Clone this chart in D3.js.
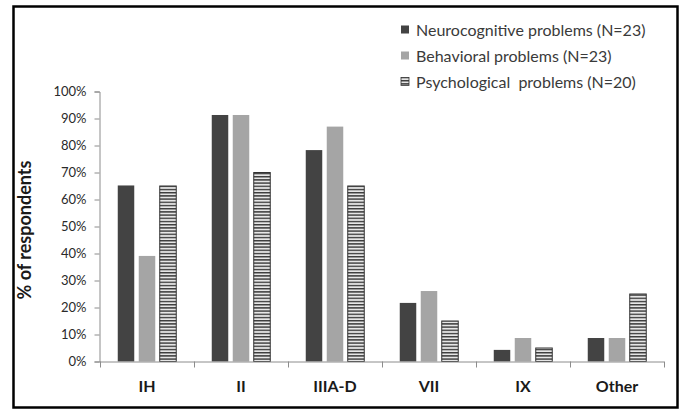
<!DOCTYPE html>
<html><head><meta charset="utf-8">
<script src="https://cdn.jsdelivr.net/npm/d3@7"></script>
<style>
body{margin:0;background:#fff}
text{font-family:Lato,"Open Sans",sans-serif}
</style>
</head><body>
<svg id="chart" width="682" height="409"></svg>
<script>
// Respondent shares per deficiency type (percent)
const categories = ["IH", "II", "IIIA-D", "VII", "IX", "Other"];
const seriesNames = ["Neurocognitive problems (N=23)", "Behavioral problems (N=23)", "Psychological  problems (N=20)"];
const neurocognitive = [65.2, 91.3, 78.3, 21.7, 4.3, 8.7];
const behavioral = [39.1, 91.3, 87.0, 26.1, 8.7, 8.7];
const psychological = [65, 70, 65, 15, 5, 25];
const yTicks = [0, 10, 20, 30, 40, 50, 60, 70, 80, 90, 100];

const seriesValues = [neurocognitive, behavioral, psychological];
const seriesFill = ["#434343", "#a5a5a5", "url(#stripes)"];

const svg = d3.select("#chart");

// horizontal stripe fill for the third series
const defs = svg.append("defs");
const pat = defs.append("pattern").attr("id", "stripes")
  .attr("patternUnits", "userSpaceOnUse").attr("width", 6).attr("height", 3.2);
pat.append("rect").attr("width", 6).attr("height", 3.2).attr("fill", "#e6e6e6");
pat.append("rect").attr("width", 6).attr("height", 1.4).attr("fill", "#3a3a3a");

// outer frame
svg.append("rect").attr("x", 13.5).attr("y", 6.5).attr("width", 664).attr("height", 401)
  .attr("fill", "none").attr("stroke", "#000").attr("stroke-width", 2.5);

const x = d3.scaleBand().domain(categories).range([100, 664]);
const y = d3.scaleLinear().domain([0, 100]).range([361.5, 91.5]);
const xInner = d3.scaleBand().domain(d3.range(seriesValues.length))
  .range([17.75, x.bandwidth() - 17.75]).paddingInner(0.214);

// y axis
const yAxis = svg.append("g").attr("transform", "translate(99.5,0)")
  .call(d3.axisLeft(y).tickValues(yTicks).tickSize(5).tickPadding(8).tickFormat(d => d + "%"));
yAxis.select(".domain").attr("stroke", "#8c8c8c");
yAxis.selectAll(".tick line").attr("stroke", "#8c8c8c");
yAxis.selectAll(".tick text").attr("font-size", 13).attr("fill", "#2a2a2a")
  .style("font-family", "Lato, sans-serif");

// bars
categories.forEach((c, i) => {
  seriesValues.forEach((vals, s) => {
    svg.append("rect")
      .attr("x", x(c) + xInner(s))
      .attr("y", y(vals[i]))
      .attr("width", xInner.bandwidth())
      .attr("height", y(0) - y(vals[i]))
      .attr("fill", seriesFill[s])
      .attr("stroke", s === 2 ? "#333" : "none")
      .attr("stroke-width", 1);
  });
});

// x axis baseline with ticks at category boundaries
const xg = svg.append("g");
xg.append("line").attr("x1", x.range()[0]).attr("x2", x.range()[1])
  .attr("y1", y(0) + 0.5).attr("y2", y(0) + 0.5).attr("stroke", "#8c8c8c");
const bounds = categories.map(c => x(c)).concat([x.range()[1]]);
xg.selectAll("line.b").data(bounds).join("line").attr("class", "b")
  .attr("x1", d => d + 0.5).attr("x2", d => d + 0.5)
  .attr("y1", y(0)).attr("y2", y(0) + 6).attr("stroke", "#8c8c8c");
xg.selectAll("text").data(categories).join("text")
  .attr("x", d => x(d) + x.bandwidth() / 2).attr("y", 392)
  .attr("text-anchor", "middle").attr("font-size", 16).attr("font-weight", "bold")
  .attr("fill", "#1a1a1a").text(d => d);

// y axis title
svg.append("text").attr("transform", "translate(31,230) rotate(-90)")
  .attr("text-anchor", "middle").attr("font-size", 18).attr("font-weight", "bold")
  .attr("fill", "#1a1a1a").text("% of respondents");

// legend
const legend = svg.append("g");
seriesNames.forEach((name, s) => {
  const ly = 30 + s * 26;
  legend.append("rect").attr("x", 401).attr("y", ly - 4.5).attr("width", 8).attr("height", 8)
    .attr("fill", seriesFill[s]).attr("stroke", s === 2 ? "#333" : "none").attr("stroke-width", 0.8);
  legend.append("text").attr("x", 416).attr("y", ly + 5.5)
    .attr("font-size", 16).attr("fill", "#3a3a3a").style("white-space", "pre").text(name);
});
</script>
</body></html>
